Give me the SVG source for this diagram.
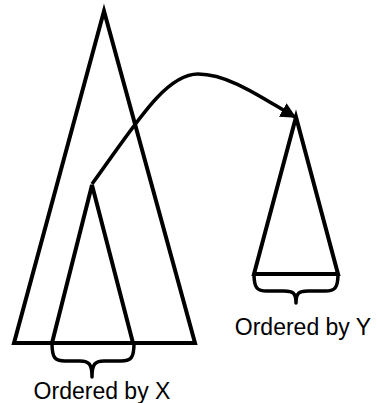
<svg xmlns="http://www.w3.org/2000/svg" width="377" height="403" viewBox="0 0 377 403">
<style>
.shape{fill:none;stroke:#000;stroke-width:4;stroke-linejoin:miter}
.brace{fill:none;stroke:#000;stroke-width:3.5;stroke-linejoin:round}
.conn{fill:none;stroke:#000;stroke-width:3.5}
.lbl{font-family:"Liberation Sans",Arial,sans-serif;font-size:23px;fill:#000;text-anchor:middle}
</style>
<defs>
<marker id="arr" viewBox="0 0 10 10" refX="9" refY="5" markerWidth="4.5" markerHeight="4.5" markerUnits="strokeWidth" orient="auto">
<path d="M0,0 L10,5 L0,10 z" fill="#000"/>
</marker>
</defs>
<rect width="377" height="403" fill="#fff"/>
<g id="big-tree">
<path class="shape" d="M104,11 L195,343 L14,343 Z"/>
</g>
<g id="subtree-x">
<path class="shape" d="M92,185 L133,343 L52,343 Z"/>
<path class="brace" d="M52,343 C52,358 55,361 65,361 L80,361 C89,361 92,364 92,377 C92,364 95,361 104,361 L121,361 C131,361 134,358 134,343"/>
<text class="lbl" x="102" y="399">Ordered by X</text>
</g>
<g id="subtree-y">
<path class="shape" d="M296,117 L338,274 L254,274 Z"/>
<path class="brace" d="M254,274 C254,288 257,291 267,291 L284,291 C293,291 296,293 296,303 C296,293 299,291 308,291 L325,291 C335,291 338,288 338,274"/>
<text class="lbl" x="303" y="335">Ordered by Y</text>
</g>
<g id="connectors">
<path class="conn" d="M92,184 C135,125 165,74 198,74 C230,74 265,100 295,117" marker-end="url(#arr)"/>
</g>
</svg>
